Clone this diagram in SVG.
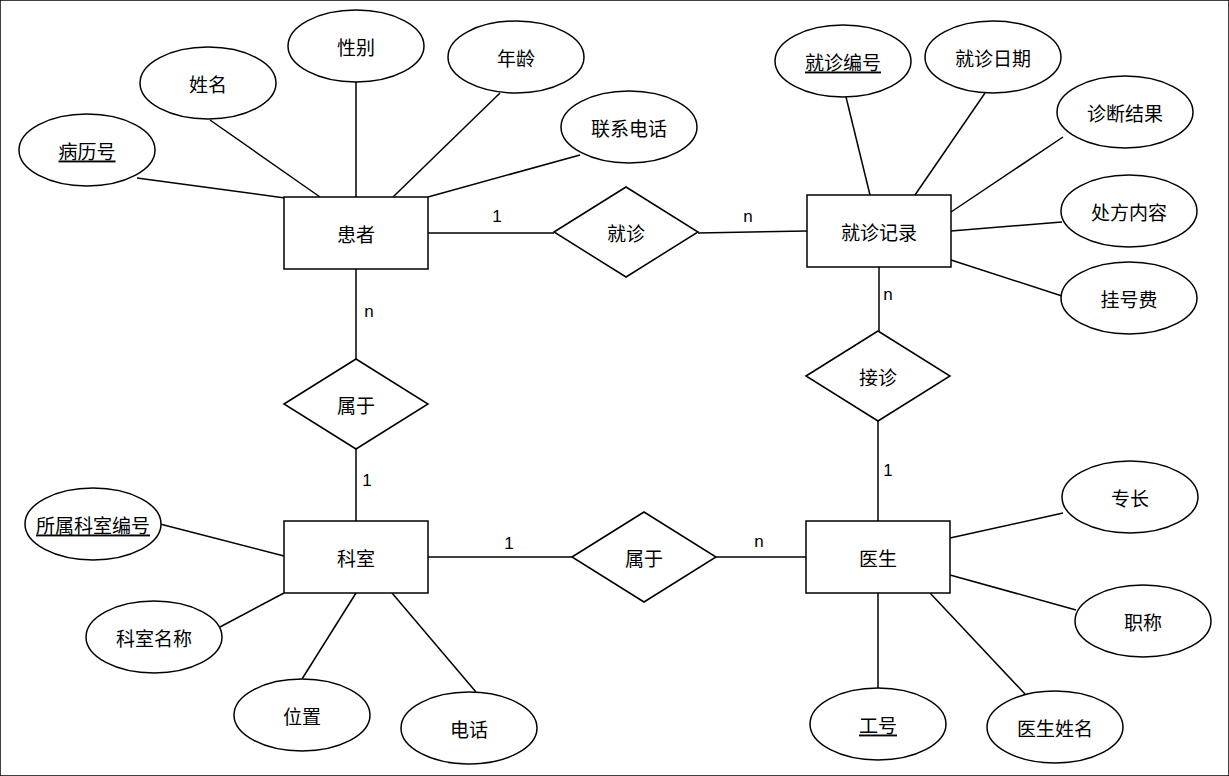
<svg xmlns="http://www.w3.org/2000/svg" width="1229" height="776" viewBox="0 0 1229 776">
<style>
rect,ellipse,polygon{fill:#fff;stroke:#000;stroke-width:1.5}
line{stroke:#000;stroke-width:1.5}
text{font-family:"Noto Sans CJK SC","Liberation Sans",sans-serif;font-size:19px;text-anchor:middle;dominant-baseline:central;fill:#000}
.u{text-decoration:underline}
.c{font-family:"Liberation Sans",sans-serif;font-size:17px}
</style>
<rect width="1229" height="776" fill="#fff" stroke="none"/>
<g id="connectors">
<line x1="137" y1="178" x2="285" y2="198"/>
<line x1="210" y1="120" x2="320" y2="197"/>
<line x1="356" y1="82" x2="356" y2="197"/>
<line x1="500" y1="93" x2="393" y2="197"/>
<line x1="580" y1="155" x2="428" y2="197"/>
<line x1="428" y1="233" x2="554" y2="233"/>
<line x1="698" y1="233" x2="807" y2="231"/>
<line x1="846" y1="97" x2="870" y2="195"/>
<line x1="985" y1="93" x2="915" y2="195"/>
<line x1="1063" y1="137" x2="951" y2="212"/>
<line x1="1062" y1="222" x2="951" y2="231"/>
<line x1="1062" y1="296" x2="951" y2="260"/>
<line x1="879" y1="267" x2="879" y2="331"/>
<line x1="878" y1="421" x2="878" y2="521"/>
<line x1="356" y1="269" x2="356" y2="359"/>
<line x1="356" y1="449" x2="356" y2="521"/>
<line x1="428" y1="557" x2="572" y2="557"/>
<line x1="716" y1="557" x2="806" y2="557"/>
<line x1="160" y1="524" x2="284" y2="556"/>
<line x1="220" y1="627" x2="284" y2="593"/>
<line x1="302" y1="679" x2="356" y2="593"/>
<line x1="476" y1="692" x2="392" y2="593"/>
<line x1="1063" y1="513" x2="950" y2="538"/>
<line x1="1076" y1="610" x2="950" y2="575"/>
<line x1="878" y1="688" x2="878" y2="593"/>
<line x1="1025" y1="694" x2="930" y2="593"/>
<text class="c" x="497" y="216">1</text>
<text class="c" x="748" y="216">n</text>
<text class="c" x="888" y="294">n</text>
<text class="c" x="888" y="470">1</text>
<text class="c" x="369" y="311">n</text>
<text class="c" x="367" y="480">1</text>
<text class="c" x="509" y="543">1</text>
<text class="c" x="759" y="541">n</text>
</g>
<g id="patient"><rect x="284" y="197" width="144" height="72"/><text x="356" y="233">患者</text></g>
<g id="record"><rect x="807" y="195" width="144" height="72"/><text x="879" y="231">就诊记录</text></g>
<g id="dept"><rect x="284" y="521" width="144" height="72"/><text x="356" y="557">科室</text></g>
<g id="doctor"><rect x="806" y="521" width="144" height="72"/><text x="878" y="557">医生</text></g>
<g id="visit"><polygon points="554,232 626,187 698,232 626,277"/><text x="626" y="232">就诊</text></g>
<g id="belong1"><polygon points="284,404 356,359 428,404 356,449"/><text x="356" y="404">属于</text></g>
<g id="treat"><polygon points="806,376 878,331 950,376 878,421"/><text x="878" y="376">接诊</text></g>
<g id="belong2"><polygon points="572,557 644,512 716,557 644,602"/><text x="644" y="557">属于</text></g>
<g id="a1"><ellipse cx="87" cy="150" rx="68" ry="36"/><text class="u" x="87" y="150">病历号</text></g>
<g id="a2"><ellipse cx="208" cy="83" rx="68" ry="36"/><text x="208" y="83">姓名</text></g>
<g id="a3"><ellipse cx="356" cy="46" rx="68" ry="36"/><text x="356" y="46">性别</text></g>
<g id="a4"><ellipse cx="516" cy="57" rx="68" ry="36"/><text x="516" y="57">年龄</text></g>
<g id="a5"><ellipse cx="629" cy="127" rx="68" ry="36"/><text x="629" y="127">联系电话</text></g>
<g id="a6"><ellipse cx="843" cy="61" rx="68" ry="36"/><text class="u" x="843" y="61">就诊编号</text></g>
<g id="a7"><ellipse cx="993" cy="57" rx="68" ry="36"/><text x="993" y="57">就诊日期</text></g>
<g id="a8"><ellipse cx="1125" cy="112" rx="68" ry="36"/><text x="1125" y="112">诊断结果</text></g>
<g id="a9"><ellipse cx="1129" cy="211" rx="68" ry="36"/><text x="1129" y="211">处方内容</text></g>
<g id="a10"><ellipse cx="1129" cy="298" rx="68" ry="36"/><text x="1129" y="298">挂号费</text></g>
<g id="a11"><ellipse cx="93" cy="524" rx="68" ry="36"/><text class="u" x="93" y="524">所属科室编号</text></g>
<g id="a12"><ellipse cx="154" cy="637" rx="68" ry="36"/><text x="154" y="637">科室名称</text></g>
<g id="a13"><ellipse cx="302" cy="715" rx="68" ry="36"/><text x="302" y="715">位置</text></g>
<g id="a14"><ellipse cx="469" cy="728" rx="68" ry="36"/><text x="469" y="728">电话</text></g>
<g id="a15"><ellipse cx="1130" cy="497" rx="68" ry="36"/><text x="1130" y="497">专长</text></g>
<g id="a16"><ellipse cx="1143" cy="621" rx="68" ry="36"/><text x="1143" y="621">职称</text></g>
<g id="a17"><ellipse cx="878" cy="724" rx="68" ry="36"/><text class="u" x="878" y="724">工号</text></g>
<g id="a18"><ellipse cx="1055" cy="727" rx="68" ry="36"/><text x="1055" y="727">医生姓名</text></g>
</svg>
